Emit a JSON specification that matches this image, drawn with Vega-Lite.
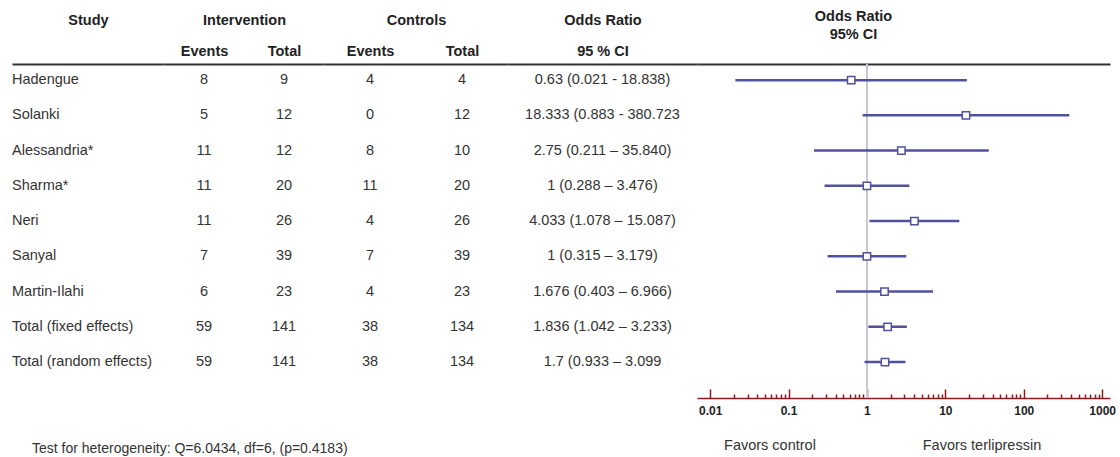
{
  "$schema": "https://vega.github.io/schema/vega-lite/v6.json",
  "background": "white",
  "padding": {"left": 12, "top": 8, "right": 0, "bottom": 0},
  "columns": 5,
  "spacing": {"row": 35, "column": 0},
  "bounds": "flush",
  "align": "each",
  "config": {
    "view": {"stroke": null},
    "font": "Liberation Sans",
    "text": {"font": "Liberation Sans", "fontSize": 14.5, "color": "#333333", "baseline": "middle"},
    "axis": {"labelFont": "Liberation Sans", "titleFont": "Liberation Sans", "grid": false}
  },
  "datasets": {
    "studies": [
      {"study": "Hadengue", "int_events": 8, "int_total": 9, "ctl_events": 4, "ctl_total": 4, "or": 0.63, "lo": 0.021, "hi": 18.838, "ci": "0.63 (0.021  - 18.838)"},
      {"study": "Solanki", "int_events": 5, "int_total": 12, "ctl_events": 0, "ctl_total": 12, "or": 18.333, "lo": 0.883, "hi": 380.723, "ci": "18.333 (0.883  - 380.723"},
      {"study": "Alessandria*", "int_events": 11, "int_total": 12, "ctl_events": 8, "ctl_total": 10, "or": 2.75, "lo": 0.211, "hi": 35.84, "ci": "2.75 (0.211 – 35.840)"},
      {"study": "Sharma*", "int_events": 11, "int_total": 20, "ctl_events": 11, "ctl_total": 20, "or": 1, "lo": 0.288, "hi": 3.476, "ci": "1 (0.288 – 3.476)"},
      {"study": "Neri", "int_events": 11, "int_total": 26, "ctl_events": 4, "ctl_total": 26, "or": 4.033, "lo": 1.078, "hi": 15.087, "ci": "4.033 (1.078 – 15.087)"},
      {"study": "Sanyal", "int_events": 7, "int_total": 39, "ctl_events": 7, "ctl_total": 39, "or": 1, "lo": 0.315, "hi": 3.179, "ci": "1 (0.315 – 3.179)"},
      {"study": "Martin-Ilahi", "int_events": 6, "int_total": 23, "ctl_events": 4, "ctl_total": 23, "or": 1.676, "lo": 0.403, "hi": 6.966, "ci": "1.676 (0.403 – 6.966)"},
      {"study": "Total (fixed effects)", "int_events": 59, "int_total": 141, "ctl_events": 38, "ctl_total": 134, "or": 1.836, "lo": 1.042, "hi": 3.233, "ci": "1.836 (1.042 – 3.233)"},
      {"study": "Total (random effects)", "int_events": 59, "int_total": 141, "ctl_events": 38, "ctl_total": 134, "or": 1.7, "lo": 0.933, "hi": 3.099, "ci": "1.7 (0.933 – 3.099"}
    ],
    "notes": [{"note": "Test for heterogeneity: Q=6.0434, df=6, (p=0.4183)"}],
    "sides": [{"side": "Favors control"}, {"side": "Favors terlipressin"}]
  },
  "concat": [
    {
      "width": 152, "height": 334,
      "data": {"name": "studies"},
      "mark": {"type": "text", "align": "left", "baseline": "middle", "fontSize": 14.5, "color": "#333333"},
      "encoding": {
        "x": {"datum": "Study", "type": "nominal", "scale": {"type": "point", "padding": 0, "align": 0},
              "axis": {"orient": "top", "labels": false, "ticks": false, "tickSize": 0, "domainColor": "#333333", "domainWidth": 2, "title": "Study", "titleY": -44, "titleBaseline": "middle", "titleFontSize": 14.5, "titleFontWeight": "bold", "titleColor": "#222222"}},
        "y": {"field": "study", "type": "nominal", "sort": null, "scale": {"type": "point", "padding": 0.738, "align": 0.31}, "axis": null},
        "text": {"field": "study", "type": "nominal"}
      }
    },
    {
      "width": 160, "height": 334,
      "data": {"name": "studies"},
      "layer": [
        {
          "mark": {"type": "text", "align": "center", "baseline": "middle", "fontSize": 14.5, "color": "#333333"},
          "encoding": {
            "x": {"datum": "Events", "type": "nominal", "scale": {"type": "point", "padding": 0.5, "domain": ["Events", "Total"]},
                  "axis": {"orient": "top", "labelAngle": 0, "labelFontSize": 14.5, "labelFontWeight": "bold", "labelColor": "#222222", "labelPadding": 13, "labelBaseline": "middle", "ticks": false, "tickSize": 0, "domainColor": "#333333", "domainWidth": 2, "title": "Intervention", "titleY": -44, "titleBaseline": "middle", "titleFontSize": 14.5, "titleFontWeight": "bold", "titleColor": "#222222"}},
            "y": {"field": "study", "type": "nominal", "sort": null, "scale": {"type": "point", "padding": 0.738, "align": 0.31}, "axis": null},
            "text": {"field": "int_events", "type": "nominal"}
          }
        },
        {
          "mark": {"type": "text", "align": "center", "baseline": "middle", "fontSize": 14.5, "color": "#333333"},
          "encoding": {
            "x": {"datum": "Total", "type": "nominal"},
            "y": {"field": "study", "type": "nominal", "sort": null},
            "text": {"field": "int_total", "type": "nominal"}
          }
        }
      ]
    },
    {
      "width": 184, "height": 334,
      "data": {"name": "studies"},
      "layer": [
        {
          "mark": {"type": "text", "align": "center", "baseline": "middle", "fontSize": 14.5, "color": "#333333"},
          "encoding": {
            "x": {"datum": "Events", "type": "nominal", "scale": {"type": "point", "padding": 0.5, "domain": ["Events", "Total"]},
                  "axis": {"orient": "top", "labelAngle": 0, "labelFontSize": 14.5, "labelFontWeight": "bold", "labelColor": "#222222", "labelPadding": 13, "labelBaseline": "middle", "ticks": false, "tickSize": 0, "domainColor": "#333333", "domainWidth": 2, "title": "Controls", "titleY": -44, "titleBaseline": "middle", "titleFontSize": 14.5, "titleFontWeight": "bold", "titleColor": "#222222"}},
            "y": {"field": "study", "type": "nominal", "sort": null, "scale": {"type": "point", "padding": 0.738, "align": 0.31}, "axis": null},
            "text": {"field": "ctl_events", "type": "nominal"}
          }
        },
        {
          "mark": {"type": "text", "align": "center", "baseline": "middle", "fontSize": 14.5, "color": "#333333"},
          "encoding": {
            "x": {"datum": "Total", "type": "nominal"},
            "y": {"field": "study", "type": "nominal", "sort": null},
            "text": {"field": "ctl_total", "type": "nominal"}
          }
        }
      ]
    },
    {
      "width": 189, "height": 334,
      "data": {"name": "studies"},
      "mark": {"type": "text", "align": "center", "baseline": "middle", "fontSize": 14.5, "color": "#333333"},
      "encoding": {
        "x": {"datum": "95 % CI", "type": "nominal", "scale": {"type": "point"},
              "axis": {"orient": "top", "labelAngle": 0, "labelFontSize": 14.5, "labelFontWeight": "bold", "labelColor": "#222222", "labelPadding": 13, "labelBaseline": "middle", "ticks": false, "tickSize": 0, "domainColor": "#333333", "domainWidth": 2, "title": "Odds Ratio", "titleY": -44, "titleBaseline": "middle", "titleFontSize": 14.5, "titleFontWeight": "bold", "titleColor": "#222222"}},
        "y": {"field": "study", "type": "nominal", "sort": null, "scale": {"type": "point", "padding": 0.738, "align": 0.31}, "axis": null},
        "text": {"field": "ci", "type": "nominal"}
      }
    },
    {
      "width": 413, "height": 334,
      "data": {"name": "studies"},
      "resolve": {"axis": {"x": "independent"}},
      "layer": [
        {
          "mark": {"type": "rule", "color": "#c6c6da", "strokeWidth": 1},
          "encoding": {
            "x": {"datum": 1, "type": "quantitative", "scale": {"type": "log", "domain": [0.0068, 1260], "nice": false},
                  "axis": {"orient": "top", "labels": false, "ticks": false, "tickSize": 0, "grid": false, "domainColor": "#333333", "domainWidth": 2, "title": ["Odds Ratio", "95% CI"], "titleX": 156, "titleY": -55, "titleAlign": "center", "titleBaseline": "top", "titleLineHeight": 18, "titleFontSize": 14.5, "titleFontWeight": "bold", "titleColor": "#222222"}}
          }
        },
        {
          "mark": {"type": "rule", "color": "#50509e", "strokeWidth": 2.5},
          "encoding": {
            "x": {"field": "lo", "type": "quantitative", "scale": {"type": "log", "domain": [0.0068, 1260], "nice": false},
                  "axis": {"orient": "bottom", "grid": false, "title": null,
                           "values": [0.01,0.02,0.03,0.04,0.05,0.06,0.07,0.08,0.09,0.1,0.2,0.3,0.4,0.5,0.6,0.7,0.8,0.9,1,2,3,4,5,6,7,8,9,10,20,30,40,50,60,70,80,90,100,200,300,400,500,600,700,800,900,1000],
                           "labelExpr": "indexof([0.01,0.1,1,10,100,1000], datum.value) >= 0 ? '' + datum.value : ''",
                           "tickSize": {"condition": {"test": "indexof([0.01,0.1,1,10,100,1000], datum.value) >= 0", "value": -9}, "value": -4},
                           "tickColor": "#8b1c1c", "tickWidth": 1.5, "domainColor": "#8b1c1c", "domainWidth": 1.5,
                           "labelFontSize": 12, "labelFontWeight": "bold", "labelColor": "#222222", "labelPadding": 16,
                           "labelFlush": false, "labelOverlap": false, "labelBound": false}},
            "x2": {"field": "hi"},
            "y": {"field": "study", "type": "nominal", "sort": null, "scale": {"type": "point", "padding": 0.738, "align": 0.31}, "axis": null}
          }
        },
        {
          "mark": {"type": "square", "size": 55, "filled": true, "fill": "white", "stroke": "#50509e", "strokeWidth": 1.5, "opacity": 1},
          "encoding": {
            "x": {"field": "or", "type": "quantitative", "axis": null},
            "y": {"field": "study", "type": "nominal", "sort": null}
          }
        }
      ]
    },
    {
      "width": 152, "height": 26,
      "data": {"name": "notes"},
      "mark": {"type": "text", "align": "left", "baseline": "middle", "fontSize": 14, "color": "#333333", "dx": 20, "dy": 3},
      "encoding": {
        "x": {"field": "note", "type": "nominal", "scale": {"type": "point", "padding": 0, "align": 0}, "axis": null},
        "text": {"field": "note", "type": "nominal"}
      }
    },
    {"width": 160, "height": 26, "data": {"values": []}, "mark": "text"},
    {"width": 184, "height": 26, "data": {"values": []}, "mark": "text"},
    {"width": 189, "height": 26, "data": {"values": []}, "mark": "text"},
    {
      "width": 413, "height": 26,
      "data": {"name": "sides"},
      "mark": {"type": "text", "align": "center", "baseline": "middle", "fontSize": 14.5, "color": "#333333"},
      "encoding": {
        "x": {"field": "side", "type": "nominal", "sort": null, "scale": {"type": "point", "padding": 0.474, "align": 0.363}, "axis": null},
        "text": {"field": "side", "type": "nominal"}
      }
    }
  ]
}
